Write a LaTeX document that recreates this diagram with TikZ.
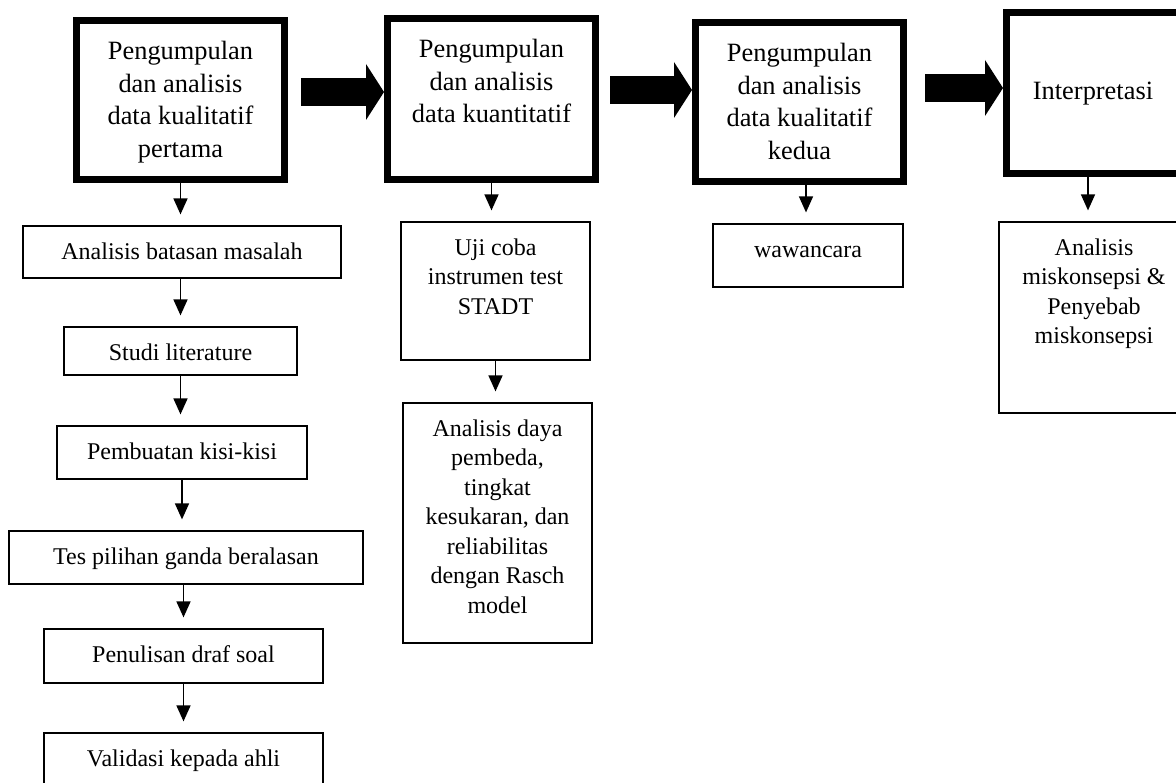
\documentclass[tikz,border=0pt]{standalone}
\usepackage{fontspec}
\setmainfont{Liberation Serif}
\usetikzlibrary{arrows.meta}

\newcommand{\stagefont}{\fontsize{26.4pt}{32.5pt}\selectfont}
\newcommand{\taskfont}{\fontsize{24pt}{29.5pt}\selectfont}
% box text: width, height, lines (top aligned)
\newcommand{\stagetext}[3]{\parbox[c][#2][t]{#1}{\centering\vspace*{16.75pt}\strut#3}}
\newcommand{\tasktext}[3]{\parbox[c][#2][t]{#1}{\centering\vspace*{12.5pt}\strut#3}}

\begin{document}
\begin{tikzpicture}[x=1pt, y=-1pt,
    stage/.style={draw, line width=7pt, inner sep=0pt, font=\stagefont},
    task/.style={draw, line width=1.2pt, inner sep=0pt, font=\taskfont},
    flow/.style={line width=1.5pt, shorten >=11pt, -{Triangle[width=14pt,length=16pt]}},
    bigarrow/.style={line width=28pt, -{Triangle[width=56pt,length=18pt,line width=0pt]}}]
    \useasboundingbox (0,0) rectangle (1176,783);

    % Stages
    \node[stage] (kual1) at (180.5,100) {\stagetext{208pt}{159pt}{Pengumpulan\\dan analisis\\data kualitatif\\pertama}};
    \node[stage] (kuan) at (491.5,99) {\stagetext{208pt}{161pt}{Pengumpulan\\dan analisis\\data kuantitatif}};
    \node[stage] (kual2) at (799.5,102) {\stagetext{208pt}{159pt}{Pengumpulan\\dan analisis\\data kualitatif\\kedua}};
    \node[stage] (interp) at (1093,93) {\parbox[c][161pt][c]{173pt}{\centering\strut Interpretasi}};

    % Big arrows between stages
    \draw[bigarrow] ([xshift=13pt]kual1.east |- 0,92) -- (kuan.west |- 0,92);
    \draw[bigarrow] ([xshift=11pt]kuan.east |- 0,90) -- (kual2.west |- 0,90);
    \draw[bigarrow] ([xshift=18pt]kual2.east |- 0,88) -- (interp.west |- 0,88);

    % First qualitative stage
    \node[task] (batas) at (182,252) {\tasktext{318pt}{52pt}{Analisis batasan masalah}};
    \node[task] (studi) at (180.5,351) {\tasktext{233pt}{48pt}{Studi literature}};
    \node[task] (kisi) at (182,452.5) {\tasktext{250pt}{53pt}{Pembuatan kisi-kisi}};
    \node[task] (tes) at (186,557.5) {\tasktext{354pt}{53pt}{Tes pilihan ganda beralasan}};
    \node[task] (draf) at (183.5,656) {\tasktext{279pt}{54pt}{Penulisan draf soal}};
    \node[task] (valid) at (183.5,759.5) {\tasktext{279pt}{53pt}{Validasi kepada ahli}};

    \draw[flow] (kual1.south) -- (kual1.south |- batas.north);
    \draw[flow] (studi.north |- batas.south) -- (studi.north);
    \draw[flow] (studi.south) -- (studi.south |- kisi.north);
    \draw[flow] (kisi.south) -- (kisi.south |- tes.north);
    \draw[flow] (tes.south -| draf.north) -- (draf.north);
    \draw[flow] (draf.south) -- (valid.north);

    % Quantitative stage
    \node[task] (uji) at (495.5,291) {\tasktext{189pt}{138pt}{Uji coba\\instrumen test\\STADT}};
    \node[task] (daya) at (497.5,523) {\tasktext{189pt}{240pt}{Analisis daya\\pembeda,\\tingkat\\kesukaran, dan\\reliabilitas\\dengan Rasch\\model}};

    \draw[flow] (kuan.south) -- (kuan.south |- uji.north);
    \draw[flow] (uji.south) -- (uji.south |- daya.north);

    % Second qualitative stage
    \node[task] (wawan) at (808,255.5) {\tasktext{190pt}{63pt}{wawancara}};
    \draw[flow] ([xshift=-2pt]kual2.south -| wawan.north) -- ([xshift=-2pt]wawan.north);

    % Interpretation
    \node[task] (miskon) at (1094,317.5) {\tasktext{190pt}{191pt}{Analisis\\miskonsepsi \&\\Penyebab\\miskonsepsi}};
    \draw[flow] ([xshift=-5pt]interp.south) -- ([xshift=-5pt]interp.south |- miskon.north);
\end{tikzpicture}
\end{document}
